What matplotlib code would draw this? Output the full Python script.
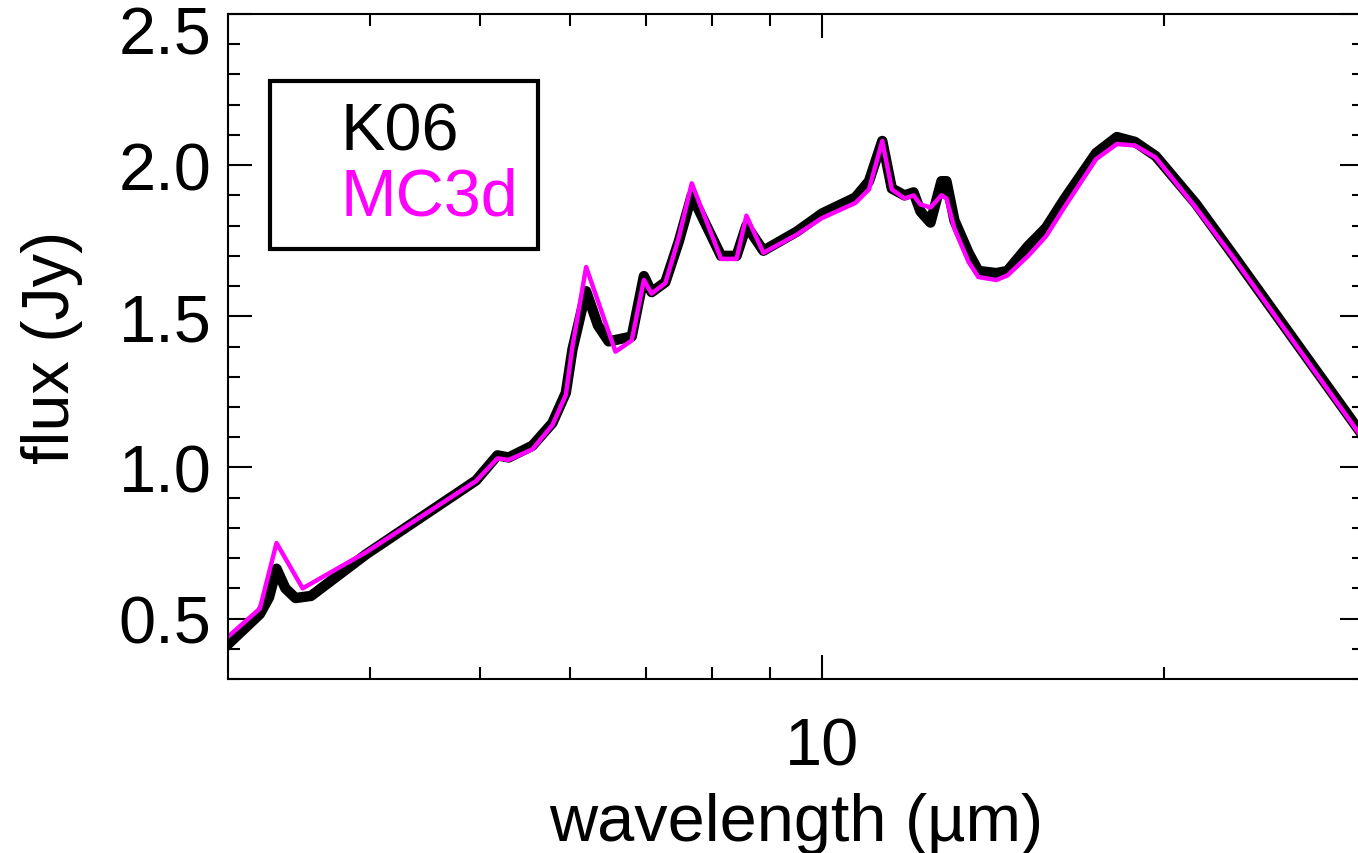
import numpy as np
import matplotlib
matplotlib.use("Agg")
import matplotlib.pyplot as plt
from matplotlib.ticker import FixedLocator, FixedFormatter, NullFormatter, MultipleLocator, FormatStrFormatter
from matplotlib.transforms import ScaledTranslation

plt.rcParams['font.family'] = ['Liberation Sans', 'DejaVu Sans']

# K06 model SED (black)
wave_k06 = [3.00, 3.20, 3.26, 3.31, 3.37, 3.44, 3.55, 3.97, 4.96, 5.18, 5.30, 5.56,
            5.79, 5.95, 6.03, 6.20, 6.35, 6.49, 6.80, 6.97, 7.08, 7.28, 7.48, 7.68,
            8.15, 8.41, 8.58, 8.88, 9.50, 10.0, 10.7, 11.0, 11.3, 11.52, 11.82, 12.04,
            12.21, 12.46, 12.74, 12.87, 13.08, 13.46, 13.73, 14.24, 14.56, 15.19, 15.75,
            16.34, 17.43, 18.18, 18.86, 19.67, 21.33, 23.07, 30.0]
flux_k06 = [0.415, 0.515, 0.57, 0.665, 0.60, 0.568, 0.575, 0.713, 0.957, 1.04, 1.033, 1.072,
            1.147, 1.247, 1.39, 1.583, 1.47, 1.417, 1.433, 1.633, 1.58, 1.613, 1.747, 1.90,
            1.70, 1.70, 1.80, 1.717, 1.78, 1.84, 1.893, 1.947, 2.08, 1.923, 1.90, 1.91,
            1.847, 1.81, 1.947, 1.947, 1.817, 1.71, 1.65, 1.643, 1.65, 1.733, 1.793,
            1.887, 2.04, 2.093, 2.077, 2.03, 1.873, 1.697, 1.10]

# MC3d model SED (magenta)
wave_mc3d = [3.00, 3.20, 3.31, 3.49, 3.97, 4.96, 5.18, 5.30, 5.56, 5.79, 5.95, 6.03,
             6.20, 6.58, 6.80, 6.97, 7.08, 7.28, 7.48, 7.68, 8.15, 8.41, 8.58, 8.88,
             9.50, 10.0, 10.7, 11.0, 11.3, 11.52, 11.82, 12.04, 12.21, 12.46, 12.74, 12.87,
             13.08, 13.46, 13.73, 14.24, 14.56, 15.19, 15.75, 16.34, 17.43, 18.18, 18.86,
             19.67, 21.33, 23.07, 30.0]
flux_mc3d = [0.44, 0.533, 0.75, 0.60, 0.72, 0.955, 1.03, 1.025, 1.06, 1.14, 1.24, 1.40,
             1.663, 1.383, 1.42, 1.62, 1.575, 1.61, 1.76, 1.94, 1.69, 1.69, 1.833, 1.71,
             1.77, 1.825, 1.875, 1.92, 2.08, 1.92, 1.89, 1.90, 1.87, 1.86, 1.90, 1.89,
             1.79, 1.68, 1.63, 1.62, 1.635, 1.70, 1.765, 1.86, 2.02, 2.07, 2.065,
             2.025, 1.86, 1.69, 1.09]

y_ticks = [0.5, 1.0, 1.5, 2.0, 2.5]

fig = plt.figure(figsize=(13.58, 8.54), dpi=100)
ax = fig.add_axes([0.1679, 0.2037, 0.8365, 0.7787])

ax.plot(wave_k06, flux_k06, color='black', lw=7.5, solid_joinstyle='round', label='K06')
ax.plot(wave_mc3d, flux_mc3d, color='#ff00ff', lw=3.2, label='MC3d')

ax.set_xscale('log')
ax.set_xlim(3, 30)
ax.set_ylim(0.3, 2.5)
ax.xaxis.set_major_locator(FixedLocator([10]))
ax.xaxis.set_major_formatter(FixedFormatter(['10']))
ax.xaxis.set_minor_locator(FixedLocator([4, 5, 6, 7, 8, 9, 20]))
ax.xaxis.set_minor_formatter(NullFormatter())
ax.yaxis.set_major_locator(FixedLocator(y_ticks))
ax.yaxis.set_major_formatter(FormatStrFormatter('%.1f'))
ax.yaxis.set_minor_locator(MultipleLocator(0.1))

ax.tick_params(which='both', direction='in', top=True, right=True, width=1.5, labelsize=48)
ax.tick_params(which='major', length=17)
ax.tick_params(which='minor', length=8.5)
ax.tick_params(axis='x', pad=27)
ax.tick_params(axis='y', pad=12)
for s in ax.spines.values():
    s.set_linewidth(1.5)

ax.set_xlabel('wavelength (µm)', fontsize=48)
ax.set_ylabel('flux (Jy)', fontsize=48)
ax.xaxis.set_label_coords(0.5, -0.170)
ax.yaxis.set_label_coords(-0.128, 0.5)

# top label sits a bit lower than its tick
top_lab = ax.yaxis.get_major_ticks()[len(y_ticks) - 1].label1
top_lab.set_transform(top_lab.get_transform() + ScaledTranslation(0, -0.15, fig.dpi_scale_trans))

leg = ax.legend(loc='upper left', bbox_to_anchor=(0.037, 0.899), borderaxespad=0,
                fancybox=False, edgecolor='black', framealpha=1, fontsize=48,
                handlelength=0.55, handletextpad=0.2, borderpad=0.3, labelspacing=0.05,
                labelcolor='linecolor')
leg.get_frame().set_linewidth(3)
for h in leg.legend_handles:
    h.set_visible(False)

fig.savefig('out.png', dpi=100)
